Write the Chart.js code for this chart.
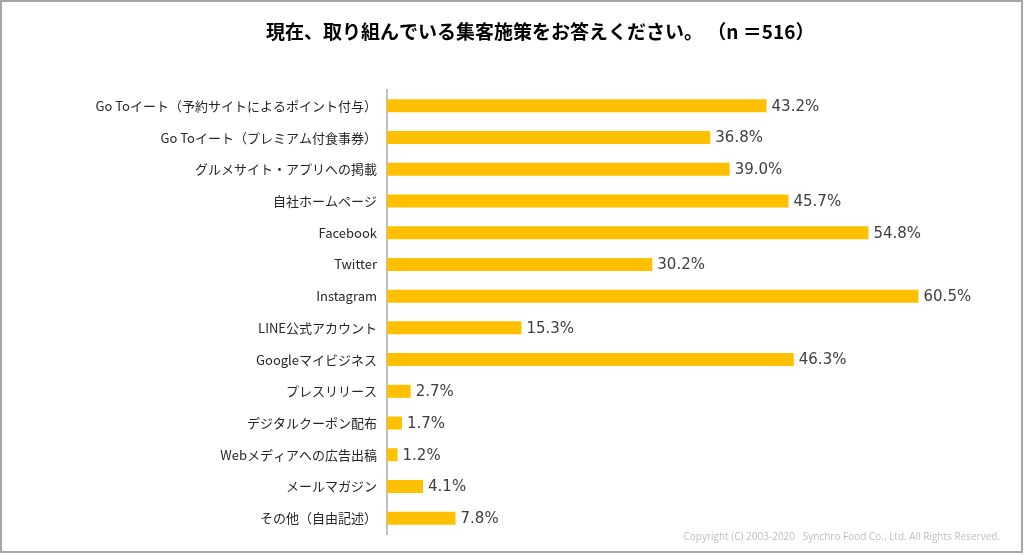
<!DOCTYPE html>
<html lang="ja">
<head>
<meta charset="UTF-8">
<title>集客施策</title>
<script src="https://cdn.jsdelivr.net/npm/chart.js@4/dist/chart.umd.min.js"></script>
<style>
  html, body { margin: 0; padding: 0; background: #fff; }
  #wrap { width: 1024px; height: 555px; }
</style>
</head>
<body>
<div id="wrap"><canvas id="chart" width="1024" height="555"></canvas></div>
<script>
const titleText = '現在、取り組んでいる集客施策をお答えください。 （n ＝516）';
const copyright = 'Copyright (C) 2003-2020   Synchro Food Co., Ltd. All Rights Reserved.';

const categories = [
  'Go Toイート（予約サイトによるポイント付与）',
  'Go Toイート（プレミアム付食事券）',
  'グルメサイト・アプリへの掲載',
  '自社ホームページ',
  'Facebook',
  'Twitter',
  'Instagram',
  'LINE公式アカウント',
  'Googleマイビジネス',
  'プレスリリース',
  'デジタルクーポン配布',
  'Webメディアへの広告出稿',
  'メールマガジン',
  'その他（自由記述）'
];
const values = [43.2, 36.8, 39.0, 45.7, 54.8, 30.2, 60.5, 15.3, 46.3, 2.7, 1.7, 1.2, 4.1, 7.8];

const jp = '"Noto Sans CJK JP", "Noto Sans", sans-serif';

// title, copyright, frame and value labels
const extras = {
  id: 'extras',
  afterDraw(chart) {
    const ctx = chart.ctx;
    ctx.save();
    ctx.fillStyle = '#000';
    ctx.font = 'bold 19px ' + jp;
    ctx.textAlign = 'left';
    ctx.textBaseline = 'middle';
    ctx.fillText(titleText, 266, 32);

    ctx.fillStyle = '#bfbfbf';
    ctx.font = '10px "Open Sans", sans-serif';
    ctx.textAlign = 'right';
    ctx.fillText(copyright, 1000, 537);

    const meta = chart.getDatasetMeta(0);
    ctx.fillStyle = '#404040';
    ctx.font = '15px "DejaVu Sans", sans-serif';
    ctx.textAlign = 'left';
    meta.data.forEach((bar, i) => {
      ctx.fillText(values[i].toFixed(1) + '%', bar.x + 5, bar.y + 1);
    });

    ctx.strokeStyle = '#a6a6a6';
    ctx.lineWidth = 2;
    ctx.strokeRect(1, 1, 1021, 551);
    ctx.restore();
  }
};

new Chart(document.getElementById('chart'), {
  type: 'bar',
  data: {
    labels: categories,
    datasets: [{
      data: values,
      backgroundColor: '#ffc000',
      barPercentage: 0.82,
      categoryPercentage: 0.5
    }]
  },
  options: {
    indexAxis: 'y',
    responsive: false,
    animation: false,
    layout: { padding: { top: 90, bottom: 21, left: 0, right: 22 } },
    plugins: {
      legend: { display: false },
      tooltip: { enabled: false }
    },
    scales: {
      x: { display: false, min: 0, max: 70 },
      y: {
        afterFit(scale) { scale.width = 387; },
        grid: { display: false, drawTicks: false },
        border: { display: true, color: '#bfbfbf', width: 2 },
        ticks: {
          color: '#262626',
          padding: 10,
          font: { size: 13, family: jp }
        }
      }
    }
  },
  plugins: [extras]
});
</script>
</body>
</html>
